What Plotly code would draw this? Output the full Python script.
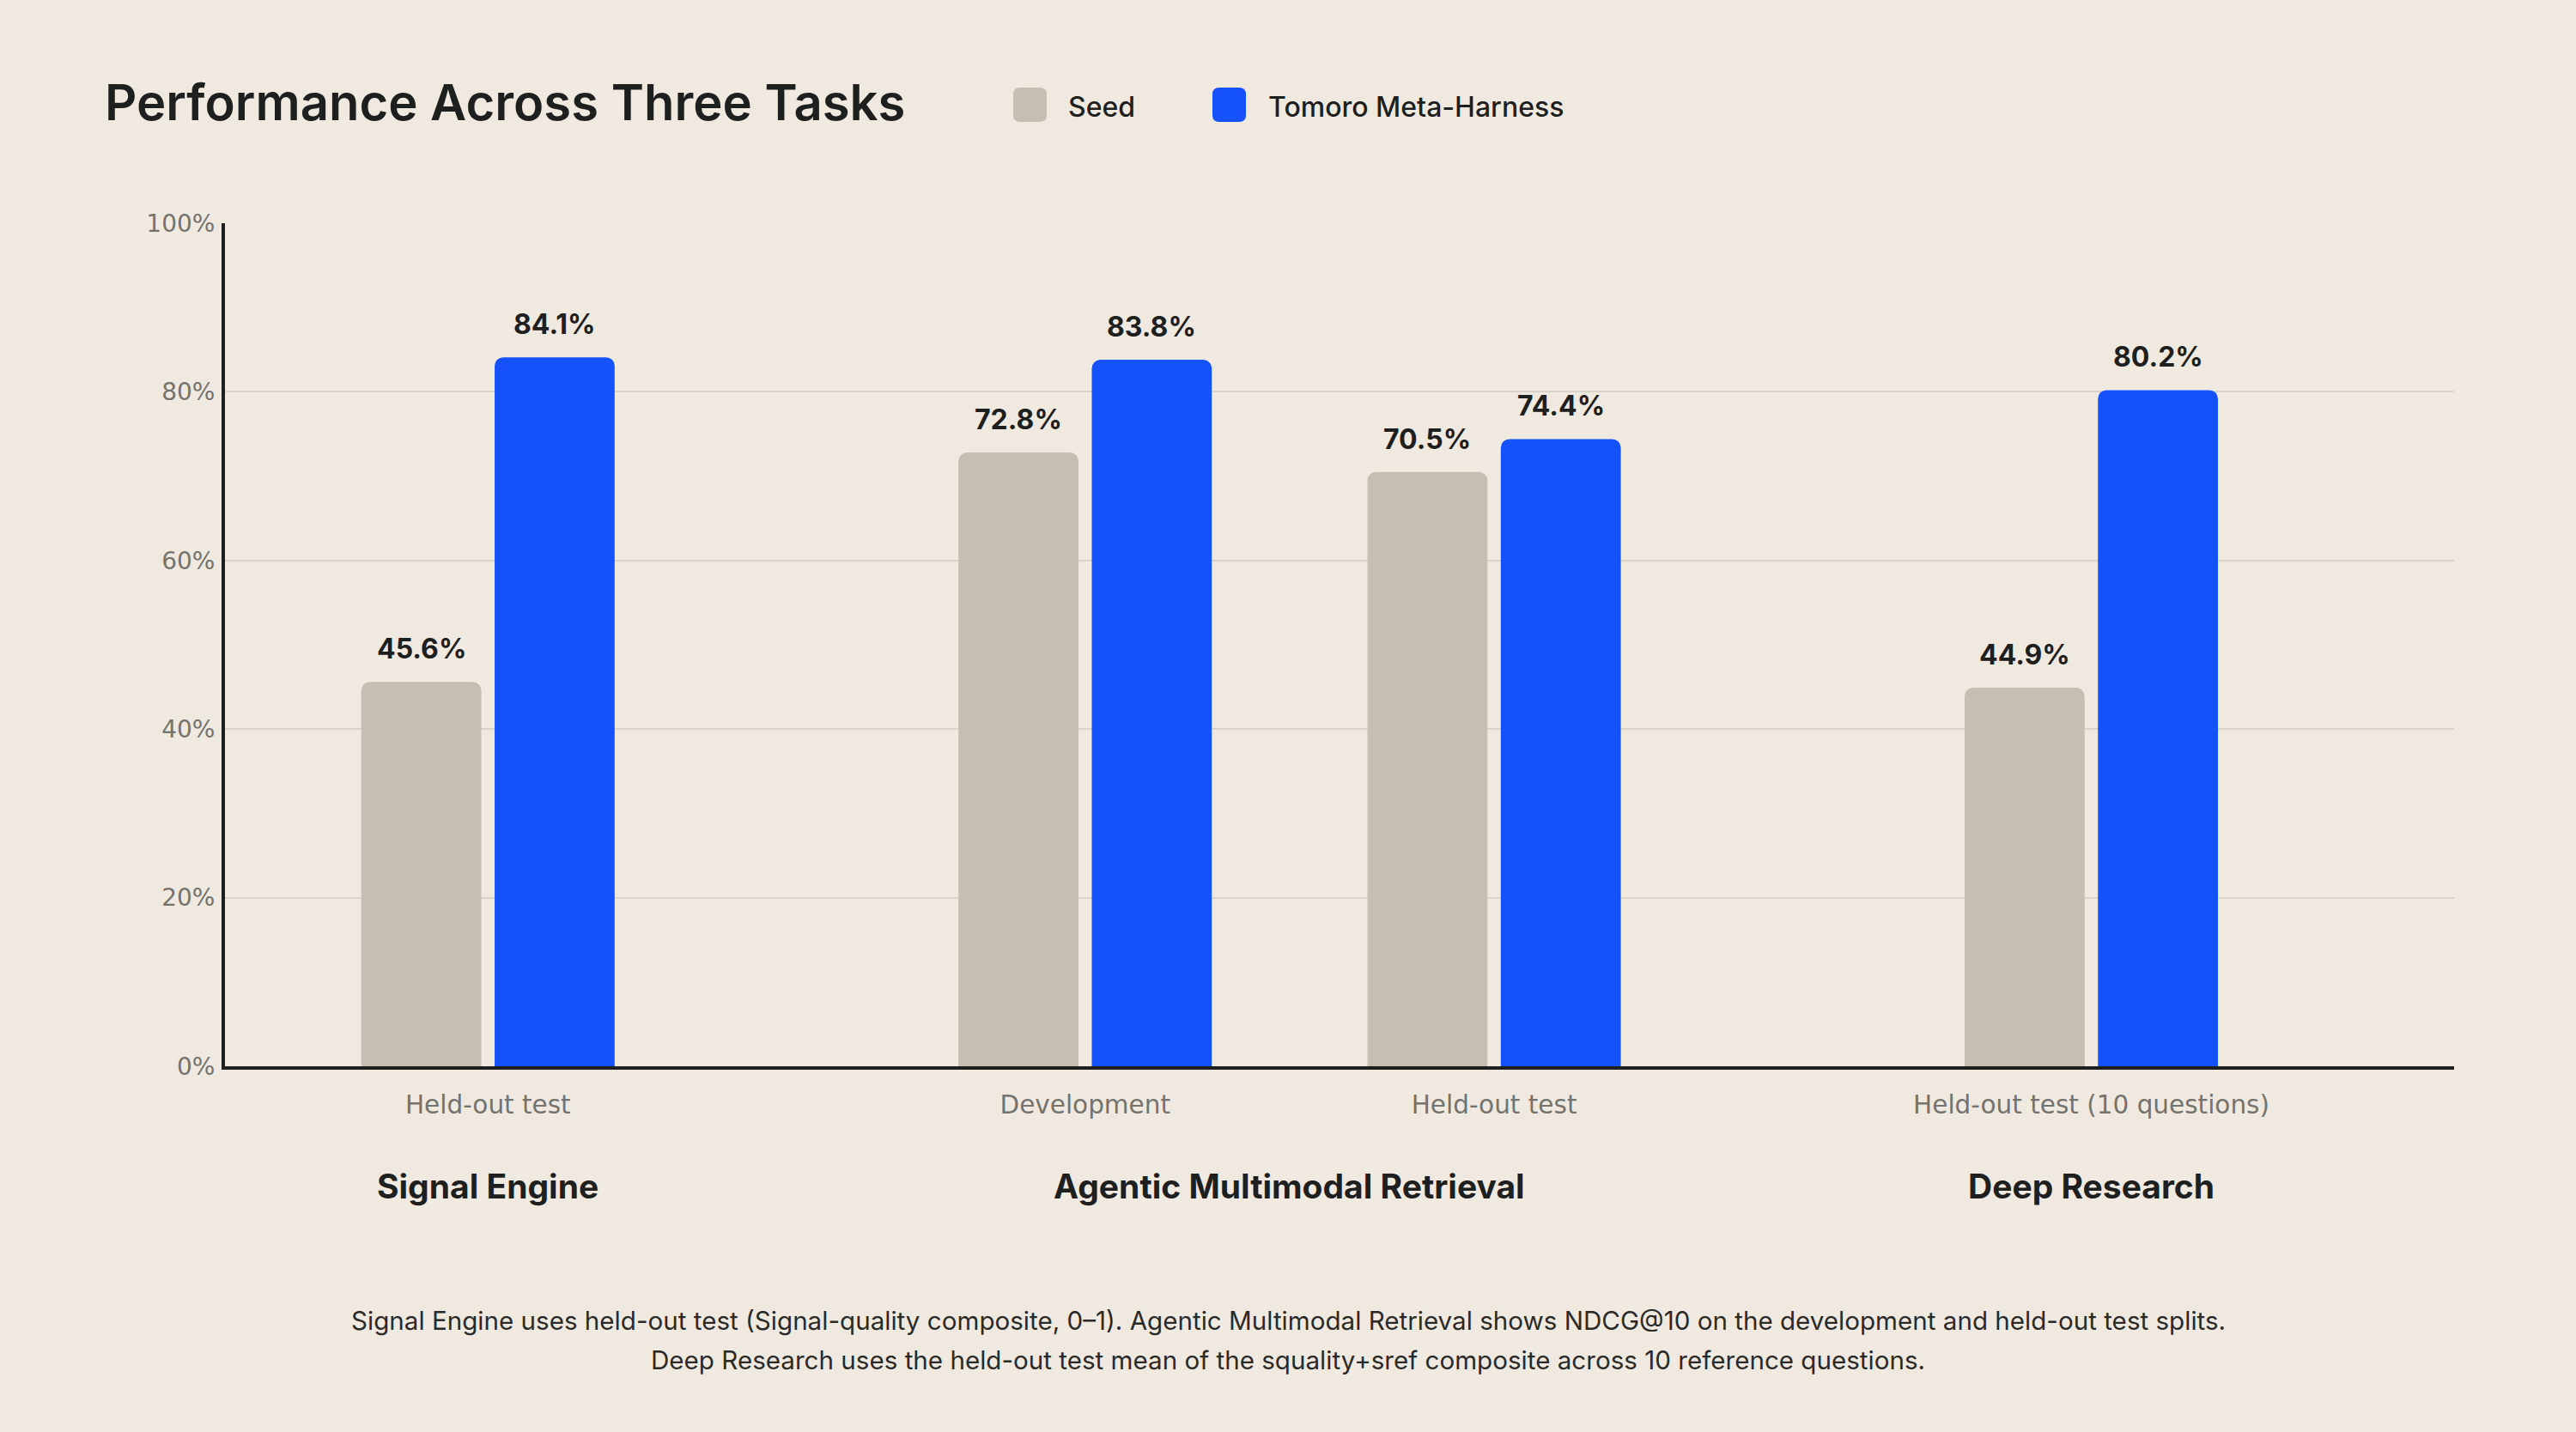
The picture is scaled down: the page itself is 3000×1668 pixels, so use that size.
import plotly.graph_objects as go

# ---------------- data ----------------
groups = ["Signal Engine", "Agentic Multimodal Retrieval", "Deep Research"]
splits = ["Held-out test", "Development", "Held-out test", "Held-out test (10 questions)"]
split_group = [0, 1, 1, 2]
seed_values = [45.6, 72.8, 70.5, 44.9]
tomoro_values = [84.1, 83.8, 74.4, 80.2]
series_names = ["Seed", "Tomoro Meta-Harness"]
y_ticks = [0, 20, 40, 60, 80, 100]
y_tick_labels = ["0%", "20%", "40%", "60%", "80%", "100%"]
title_text = "Performance Across Three Tasks"
footnote_lines = [
    "Signal Engine uses held-out test (Signal-quality composite, 0–1). Agentic Multimodal Retrieval shows NDCG@10 on the development and held-out test splits.",
    "Deep Research uses the held-out test mean of the squality+sref composite across 10 reference questions.",
]

# ---------------- style ----------------
W, H = 3000, 1668
ML, MR, MT, MB = 262, 142, 260, 426
PW, PH = W - ML - MR, H - MT - MB
BG = "#F0E9E0"
SEED_C = "#C6BEB1"
BLUE_C = "#1652FC"
DARK = "#1E2020"
GRAY = "#74736D"
GRID = "#DAD3C9"
GROUP_GAP = 0.46
BARGAP = 0.348
BARGROUPGAP = 0.1

def px_x(px):
    return (px - ML) / PW

def px_y(py):
    return (H - MB - py) / PH

x_pos = [i + GROUP_GAP * g for i, g in enumerate(split_group)]
offset = (1 - BARGAP) / 4

fig = go.Figure()
fig.add_trace(go.Bar(x=x_pos, y=seed_values, name=series_names[0],
                     marker=dict(color=SEED_C, line=dict(width=0)), hoverinfo="skip"))
fig.add_trace(go.Bar(x=x_pos, y=tomoro_values, name=series_names[1],
                     marker=dict(color=BLUE_C, line=dict(width=0)), hoverinfo="skip"))

annotations = []
# value labels
for vals, sgn in ((seed_values, -1), (tomoro_values, 1)):
    for xp, v in zip(x_pos, vals):
        annotations.append(dict(
            x=xp + sgn * offset, y=v, xref="x", yref="y", text=f"{v:.1f}%",
            showarrow=False, yanchor="bottom", yshift=17,
            font=dict(family="Inter", size=32, color=DARK, weight=700)))

# group labels
for gi, gname in enumerate(groups):
    members = [xp for xp, g in zip(x_pos, split_group) if g == gi]
    cx = sum(members) / len(members)
    annotations.append(dict(
        x=cx, y=px_y(1381), xref="x", yref="paper", text=gname, showarrow=False,
        yanchor="middle", font=dict(family="Inter", size=39, color=DARK, weight=700)))

# title
annotations.append(dict(
    x=px_x(120), y=px_y(119), xref="paper", yref="paper", text=title_text,
    showarrow=False, xanchor="left", yanchor="middle",
    font=dict(family="Inter", size=58, color=DARK, weight=600)))

# legend (manual)
shapes = []
def rounded_rect(x0, y0, x1, y1, r):
    X = lambda v: px_x(v)
    Y = lambda v: px_y(v)
    return (f"M {X(x0+r)} {Y(y0)} L {X(x1-r)} {Y(y0)} Q {X(x1)} {Y(y0)} {X(x1)} {Y(y0+r)} "
            f"L {X(x1)} {Y(y1-r)} Q {X(x1)} {Y(y1)} {X(x1-r)} {Y(y1)} "
            f"L {X(x0+r)} {Y(y1)} Q {X(x0)} {Y(y1)} {X(x0)} {Y(y1-r)} "
            f"L {X(x0)} {Y(y0+r)} Q {X(x0)} {Y(y0)} {X(x0+r)} {Y(y0)} Z")

legend_items = [(1180, 1242, SEED_C), (1412, 1475, BLUE_C)]
for (sx, tx, col), name in zip(legend_items, series_names):
    shapes.append(dict(type="path", xref="paper", yref="paper",
                       path=rounded_rect(sx, 102, sx + 39, 142, 8),
                       fillcolor=col, line=dict(width=0), layer="above"))
    annotations.append(dict(
        x=px_x(tx), y=px_y(124), xref="paper", yref="paper", text=name,
        showarrow=False, xanchor="left", yanchor="middle",
        font=dict(family="Inter", size=32, color=DARK, weight=500)))

# footnote
for line, py in zip(footnote_lines, (1538, 1584)):
    annotations.append(dict(
        x=px_x(W / 2), y=px_y(py), xref="paper", yref="paper", text=line,
        showarrow=False, xanchor="center", yanchor="middle",
        font=dict(family="Inter", size=29.6, color="#2A2A28")))

fig.update_layout(
    width=W, height=H,
    margin=dict(l=ML, r=MR, t=MT, b=MB, pad=0),
    paper_bgcolor=BG, plot_bgcolor=BG,
    barmode="group", bargap=BARGAP, bargroupgap=BARGROUPGAP,
    barcornerradius=10,
    showlegend=False,
    annotations=annotations, shapes=shapes,
    xaxis=dict(
        range=[-0.643, 4.807], tickvals=x_pos, ticktext=splits,
        showgrid=False, zeroline=False, showline=True, linecolor=DARK, linewidth=4,
        ticks="", ticklabelstandoff=16,
        tickfont=dict(family="DejaVu Sans", size=29.5, color=GRAY), fixedrange=True),
    yaxis=dict(
        range=[0, 100], tickvals=y_ticks, ticktext=y_tick_labels,
        showgrid=True, gridcolor=GRID, gridwidth=2, zeroline=False,
        showline=True, linecolor=DARK, linewidth=4, ticks="", ticklabelstandoff=2,
        tickfont=dict(family="DejaVu Sans", size=28, color=GRAY), fixedrange=True),
)

fig.write_html("out.html")
